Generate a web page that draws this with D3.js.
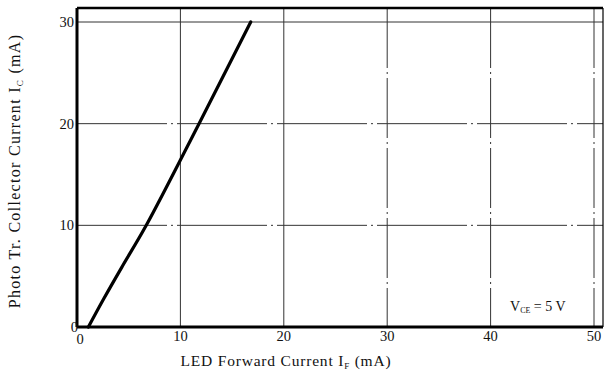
<!DOCTYPE html>
<html lang="en">
<head>
<meta charset="UTF-8">
<title>Collector Current vs Forward Current</title>
<script src="https://d3js.org/d3.v7.min.js"></script>
<style>
    body { margin: 0; background: #fff; }
    svg text { font-family: "Liberation Serif", "DejaVu Serif", serif; fill: #111; }
</style>
</head>
<body>
<div id="chart"></div>
<script>
// curve: LED forward current (mA) vs collector current (mA)
const ifValues = [1.1, 2.6, 4.4, 6.7, 11.8, 16.8];
const icValues = [0, 2.8, 6.0, 10, 20, 30];
const xTicks = [0, 10, 20, 30, 40, 50];
const yTicks = [0, 10, 20, 30];

const width = 604, height = 374;
const svg = d3.select('#chart').append('svg')
    .attr('width', width)
    .attr('height', height);

const x = d3.scaleLinear().domain([0, 50]).range([77, 594]);
const y = d3.scaleLinear().domain([0, 30]).range([327, 22]);
const xMax = x.invert(603), yMax = y.invert(8);

// grid
svg.append('g')
    .selectAll('line')
    .data(xTicks.slice(1))
    .enter().append('line')
    .attr('x1', d => x(d)).attr('x2', d => x(d))
    .attr('y1', y(yMax)).attr('y2', y(0))
    .attr('stroke', '#333')
    .attr('stroke-width', 1)
    .attr('stroke-dasharray', d => d >= 30 ? '60,4,2,4' : null);

svg.append('g')
    .selectAll('line')
    .data(yTicks.slice(1))
    .enter().append('line')
    .attr('x1', x(0)).attr('x2', x(xMax))
    .attr('y1', d => y(d)).attr('y2', d => y(d))
    .attr('stroke', '#333')
    .attr('stroke-width', 1)
    .attr('stroke-dasharray', d => d === 30 ? null : '90,4,2,4');

// frame
svg.append('line').attr('x1', x(0)).attr('x2', x(0)).attr('y1', y(yMax)).attr('y2', y(0))
    .attr('stroke', '#000').attr('stroke-width', 3);
svg.append('line').attr('x1', x(0)).attr('x2', x(xMax)).attr('y1', y(0)).attr('y2', y(0))
    .attr('stroke', '#000').attr('stroke-width', 3);
svg.append('line').attr('x1', x(0)).attr('x2', x(xMax)).attr('y1', y(yMax)).attr('y2', y(yMax))
    .attr('stroke', '#000').attr('stroke-width', 2.5);
svg.append('line').attr('x1', x(xMax)).attr('x2', x(xMax)).attr('y1', y(yMax)).attr('y2', y(0))
    .attr('stroke', '#000').attr('stroke-width', 1.2);

// tick labels
svg.append('g')
    .selectAll('text')
    .data(xTicks)
    .enter().append('text')
    .attr('x', d => x(d) + (d === 0 ? 3 : 0))
    .attr('y', d => d === 0 ? 344 : 341)
    .attr('text-anchor', 'middle')
    .attr('font-size', 14.5)
    .text(d => d);

svg.append('g')
    .selectAll('text')
    .data(yTicks)
    .enter().append('text')
    .attr('x', d => d === 0 ? 78 : 74)
    .attr('y', d => y(d) + 5)
    .attr('text-anchor', 'end')
    .attr('font-size', 14.5)
    .text(d => d);

// axis titles
const xt = svg.append('text')
    .attr('x', 286).attr('y', 366)
    .attr('text-anchor', 'middle')
    .attr('font-size', 15.5)
    .attr('letter-spacing', 0.8);
xt.append('tspan').text('LED Forward Current I');
xt.append('tspan').attr('font-size', 9).attr('dy', 3).text('F');
xt.append('tspan').attr('dy', -3).text(' (mA)');

const yt = svg.append('text')
    .attr('transform', 'translate(20,171) rotate(-90)')
    .attr('text-anchor', 'middle')
    .attr('font-size', 16)
    .attr('letter-spacing', 1.3);
yt.append('tspan').text('Photo Tr. Collector Current I');
yt.append('tspan').attr('font-size', 9).attr('dy', 3).text('C');
yt.append('tspan').attr('dy', -3).text(' (mA)');

// condition note
const note = svg.append('text')
    .attr('x', 510).attr('y', 311)
    .attr('font-size', 14);
note.append('tspan').text('V');
note.append('tspan').attr('font-size', 8).attr('dy', 2).text('CE');
note.append('tspan').attr('dy', -2).text(' = 5 V');

// curve
const line = d3.line()
    .x((d, i) => x(ifValues[i]))
    .y(d => y(d))
    .curve(d3.curveCatmullRom);

svg.append('path')
    .datum(icValues)
    .attr('d', line)
    .attr('fill', 'none')
    .attr('stroke', '#000')
    .attr('stroke-width', 3.2)
    .attr('stroke-linecap', 'round');
</script>
</body>
</html>
